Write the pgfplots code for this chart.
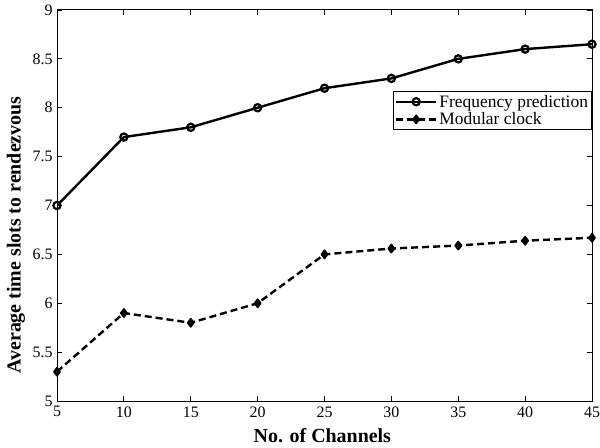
\documentclass[border=0pt]{standalone}
\usepackage{pgfplots}
\pgfplotsset{compat=1.18}
\usepackage{fontspec}
\setmainfont{Liberation Serif}
\begin{document}
\begin{tikzpicture}
\begin{axis}[
  scale only axis,
  width=535bp, height=391bp,
  xmin=5, xmax=45, ymin=5, ymax=9,
  xtick={5,10,...,45},
  ytick={5,5.5,...,9},
  yticklabels={5,5.5,6,6.5,7,7.5,8,8.5,9},
  tick align=inside,
  major tick length=5bp,
  tick style={black, line width=0.8bp},
  axis line style={line width=1bp},
  ticklabel style={font=\fontsize{16}{16}\selectfont},
  xticklabel style={yshift=-2bp},
  yticklabel style={xshift=-1bp},
  /pgf/number format/assume math mode=true,
  xlabel={\textbf{No. of Channels}},
  ylabel={\textbf{Average time slots to rendezvous}},
  label style={font=\fontsize{20}{20}\selectfont},
  xlabel style={at={(axis description cs:0.496,0)}, anchor=base, yshift=-41bp},
  ylabel style={at={(axis description cs:-0.077,0.4245)}, anchor=center, rotate=0},
  legend style={at={(1,0.793)}, anchor=north east, draw=black, line width=1bp,
    font=\fontsize{17.5}{17.5}\selectfont, inner sep=1.5bp, row sep=0bp,
    nodes={inner sep=2bp}},
  legend cell align=left,
  legend image code/.code={\draw[mark repeat=2, mark phase=2, #1] plot coordinates {(0bp,0bp) (20bp,0bp) (40bp,0bp)};},
]
\addplot[black, line width=2.4bp, mark=o, mark size=3.6bp, mark options={solid, line width=2.2bp}]
coordinates {(5,7.0) (10,7.7) (15,7.8) (20,8.0) (25,8.2) (30,8.3) (35,8.5) (40,8.6) (45,8.65)};
\addlegendentry{Frequency prediction}
\addplot[black, line width=2.4bp, dash pattern=on 7bp off 4bp, mark=diamond*, mark size=4bp, mark options={solid, fill=black, line width=1.8bp, line join=round}]
coordinates {(5,5.3) (10,5.9) (15,5.8) (20,6.0) (25,6.5) (30,6.56) (35,6.59) (40,6.64) (45,6.67)};
\addlegendentry{Modular clock}
\end{axis}
\pgfresetboundingbox
\path ([shift={(-57bp,-47bp)}]current axis.south west) rectangle ([shift={(8bp,10bp)}]current axis.north east);
\end{tikzpicture}
\end{document}
